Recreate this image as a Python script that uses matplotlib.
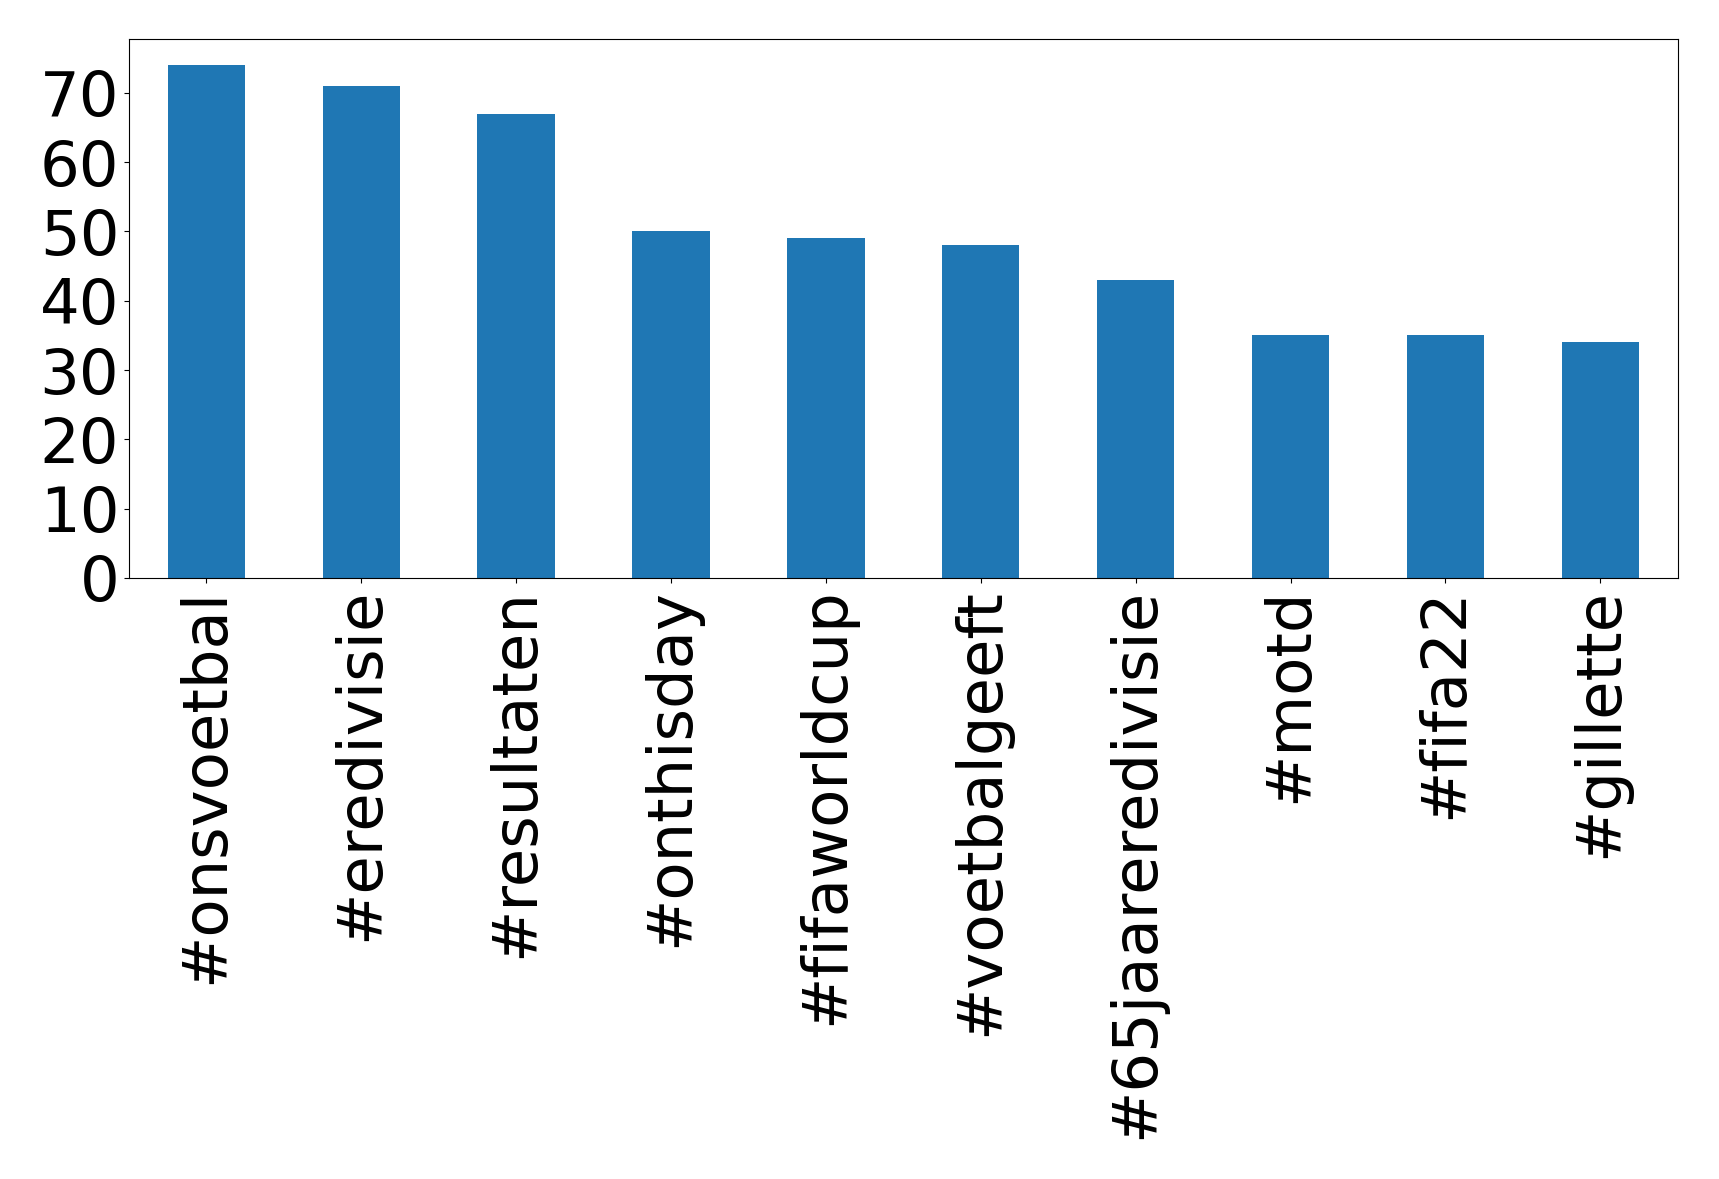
import matplotlib
matplotlib.use('Agg')
import matplotlib.pyplot as plt
from matplotlib.ticker import MultipleLocator
import pandas as pd

# hashtag counts
hashtags = ['#onsvoetbal', '#eredivisie', '#resultaten', '#onthisday', '#fifaworldcup',
            '#voetbalgeeft', '#65jaareredivisie', '#motd', '#fifa22', '#gillette']
counts = [74, 71, 67, 50, 49, 48, 43, 35, 35, 34]

s = pd.Series(counts, index=hashtags)

fig, ax = plt.subplots(figsize=(17.19, 11.79), dpi=100)
s.plot(kind='bar', ax=ax, color='#1f77b4')
ax.yaxis.set_major_locator(MultipleLocator(10))
ax.tick_params(axis='both', labelsize=45)
fig.subplots_adjust(left=0.075, right=0.976, top=0.9665, bottom=0.5098)
fig.savefig('out.png', dpi=100)
